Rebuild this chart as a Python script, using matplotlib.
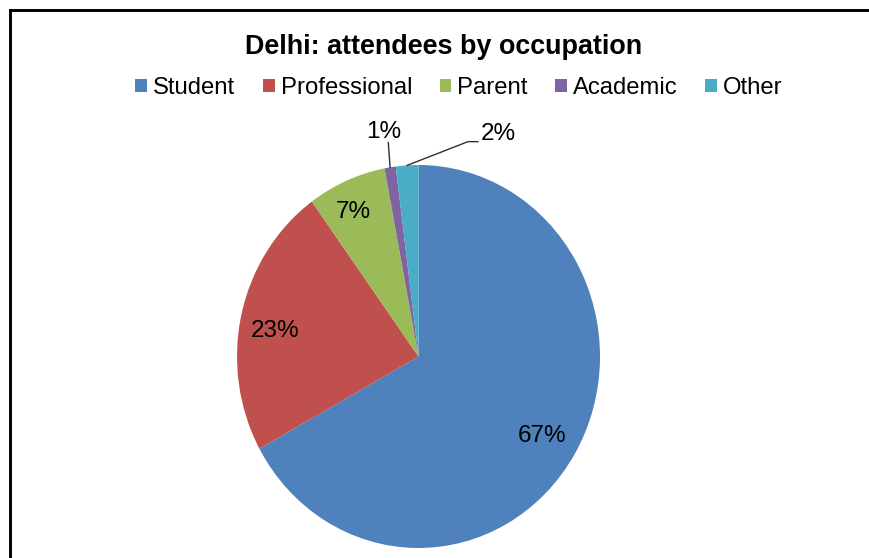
import matplotlib.pyplot as plt
from matplotlib.patches import Patch
import numpy as np

plt.rcParams['font.family'] = ['Liberation Sans', 'DejaVu Sans']

occupations = ['Student', 'Professional', 'Parent', 'Academic', 'Other']
shares = [67, 23, 7, 1, 2]
colors = ['#4F81BD', '#C0504D', '#9BBB59', '#8064A2', '#4BACC6']

# where each percentage sits (data coords, pie radius = 1)
label_pos = {
    'Student': (0.68, -0.415),
    'Professional': (-0.793, 0.131),
    'Parent': (-0.361, 0.752),
    'Academic': (-0.19, 1.173),
    'Other': (0.438, 1.162),
}

fig = plt.figure(figsize=(8.69, 5.58), dpi=100)
W, H = 869, 558

# chart frame, only top and left edges are inside the image
fig.add_artist(plt.Line2D([10 / W, 10 / W], [0, 1 - 10 / H], color='black', lw=2.1,
                          transform=fig.transFigure))
fig.add_artist(plt.Line2D([10 / W, 1], [1 - 10 / H, 1 - 10 / H], color='black', lw=2.1,
                          transform=fig.transFigure))

ax = fig.add_axes([237 / W, 10 / H, 363 / W, 383 / H])
wedges, _ = ax.pie(shares, colors=colors, startangle=90, counterclock=False,
                   radius=1, wedgeprops=dict(linewidth=0))
ax.set_aspect('auto')
ax.set_xlim(-1, 1)
ax.set_ylim(-1, 1)
ax.axis('off')

total = sum(shares)
for name, val, w in zip(occupations, shares, wedges):
    x, y = label_pos[name]
    ax.text(x, y, f'{round(100 * val / total)}%', ha='center', va='center',
            fontsize=17.5, color='black', clip_on=False)

# leader lines for the two thin slices
mid = {name: np.deg2rad((w.theta1 + w.theta2) / 2) for name, w in zip(occupations, wedges)}
a = mid['Academic']
ax.plot([np.cos(a), np.cos(a) - 0.01], [np.sin(a), 1.117], color='#303030', lw=1,
        clip_on=False)
o = mid['Other']
ax.plot([np.cos(o), 0.273, 0.327], [np.sin(o), 1.122, 1.122], color='#303030', lw=1,
        clip_on=False)

fig.text(444 / W, 1 - 47 / H, 'Delhi: attendees by occupation', ha='center', va='center',
         fontsize=19.4, fontweight='bold')

handles = [Patch(facecolor=c, edgecolor='none') for c in colors]
fig.legend(handles, occupations, loc='center', bbox_to_anchor=(459 / W, 1 - 88 / H),
           ncol=5, frameon=False, fontsize=17.2, handlelength=0.5, handleheight=0.5,
           handletextpad=0.25, columnspacing=1.15, borderpad=0)

fig.savefig('out.png', dpi=100)
